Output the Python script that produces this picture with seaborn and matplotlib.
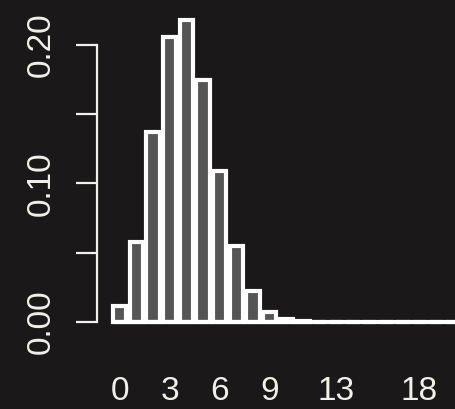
import pandas as pd
import seaborn as sns
import matplotlib.pyplot as plt

# values
outcomes = list(range(21))
probs = [0.0115, 0.0576, 0.1369, 0.2054, 0.2182, 0.1746, 0.1091, 0.0545,
         0.0222, 0.0074, 0.0020, 0.0005, 0.0001, 0.0, 0.0, 0.0, 0.0,
         0.0, 0.0, 0.0, 0.0]
x_ticks = [0, 3, 6, 9, 13, 18]
y_ticks = [0.00, 0.05, 0.10, 0.15, 0.20]
y_labels = ["0.00", "", "0.10", "", "0.20"]

bg = "#1a1818"
fg = "#f2f0ea"
bar_w = 0.8

sns.set_theme(style="dark")
plt.rcParams["font.family"] = ["Liberation Sans", "DejaVu Sans"]

df = pd.DataFrame({"k": outcomes, "p": probs})

fig = plt.figure(figsize=(4.55, 4.09), dpi=100, facecolor=bg)
# axes placed in figure pixels: spine at x=97, baseline near y=322
ax = fig.add_axes([97 / 455, (409 - 330) / 409, 1 - 97 / 455, 330 / 409])
ax.set_facecolor(bg)

sns.barplot(data=df, x="k", y="p", order=outcomes, width=bar_w,
            color="#555555", saturation=1, edgecolor="white",
            linewidth=3.0, ax=ax)
# zero-height bars melt into one continuous base line
ax.hlines(0, -bar_w / 2, len(outcomes) - 1 + bar_w / 2, color="white",
          linewidth=3.0, zorder=3)

ax.set_xlim(-1.35, 20.13)
ax.set_ylim(-0.00577, 0.2323)

for s in ["top", "right", "bottom"]:
    ax.spines[s].set_visible(False)
ax.spines["left"].set_color(fg)
ax.spines["left"].set_linewidth(1.6)
ax.spines["left"].set_bounds(0, 0.20)

ax.set_yticks(y_ticks)
ax.set_yticklabels(y_labels, rotation=90, va="center")
ax.tick_params(axis="y", direction="out", length=15, width=1.6, color=fg,
               labelcolor=fg, labelsize=24, pad=14, left=True)

ax.set_xticks(x_ticks)
ax.set_xticklabels([str(t) for t in x_ticks])
ax.tick_params(axis="x", length=0, labelcolor=fg, labelsize=24, pad=33)

ax.set_xlabel("")
ax.set_ylabel("")
ax.grid(False)

fig.savefig("out.png", dpi=100, facecolor=bg)
